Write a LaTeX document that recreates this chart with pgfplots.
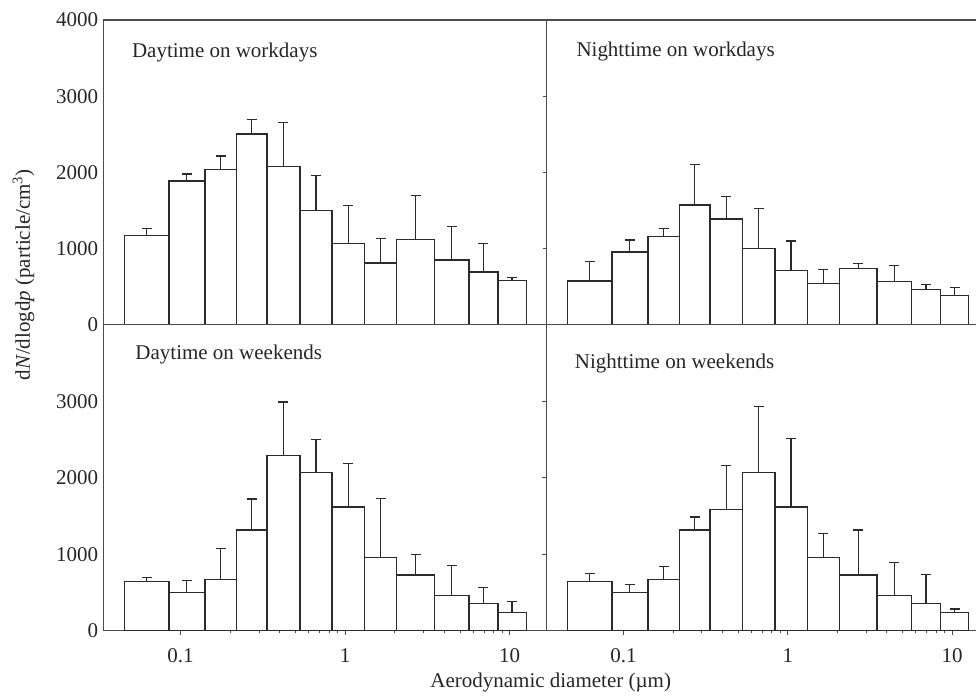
\documentclass[border=0pt]{standalone}
\usepackage{fontspec}
\setmainfont{Liberation Serif}
\usepackage{pgfplots}
\pgfplotsset{compat=1.18}
\definecolor{axc}{gray}{0.3}
\definecolor{barc}{gray}{0.17}
\begin{document}
\begin{tikzpicture}
\path (0,0) (977pt,695pt);
% upper left: daytime on workdays
\begin{axis}[xmode=log, scale only axis, width=443.4pt, height=305pt,
    xmin=0.0339, xmax=16.7, ymin=0, ymax=4000,
    axis line style={axc, line width=1.1pt}, tick style={axc, line width=1pt},
    tick pos=left, tick align=outside, minor tick num=0, major tick length=0pt,
    xtick=\empty, ytick={0,1000,2000,3000,4000}, yticklabels={0,1000,2000,3000,4000},
    tick label style={font=\fontsize{21}{25}\selectfont, text=black!85},
    yticklabel style={anchor=east, inner sep=0pt, xshift=-5pt},
    anchor=south west, at={(103.3pt,370pt)}]
\addplot[ybar interval, fill=white, draw=barc, line width=1.3pt] coordinates {(0.0456,1172) (0.0849,1889) (0.1405,2042) (0.218,2505) (0.335,2081) (0.531,1499) (0.833,1071) (1.31,813) (2.06,1115) (3.48,852) (5.66,691) (8.47,586) (12.6,586)};
\addplot[draw=none, mark=none, error bars/.cd, y dir=plus, y explicit,
    error bar style={draw=barc, line width=1.2pt},
    error mark options={rotate=90, draw=barc, mark size=5pt, line width=1.2pt}]
  table[x=x, y=y, y error=e] {
x y e
0.0622 1172 91
0.1092 1889 91
0.175 2042 174
0.2702 2505 184
0.4218 2081 573
0.665 1499 464
1.0446 1071 490
1.6427 813 315
2.677 1115 585
4.438 852 438
6.924 691 380
10.33 586 35
};
\end{axis}
% upper right: nighttime on workdays
\begin{axis}[xmode=log, scale only axis, width=430.3pt, height=305pt,
    xmin=0.0339, xmax=14.05, ymin=0, ymax=4000,
    axis x line*=box, axis y line*=left,
    axis line style={axc, line width=1.1pt, -}, tick style={axc, line width=1pt},
    tick pos=left, tick align=outside, minor tick num=0, major tick length=3pt,
    xtick=\empty, ytick={0,1000,2000,3000,4000}, yticklabels={},
    anchor=south west, at={(546.7pt,370pt)}]
\addplot[ybar interval, fill=white, draw=barc, line width=1.3pt] coordinates {(0.0456,576) (0.0849,956) (0.1405,1162) (0.218,1572) (0.335,1389) (0.531,1000) (0.833,716) (1.31,541) (2.06,738) (3.48,568) (5.66,459) (8.47,389) (12.6,389)};
\addplot[draw=none, mark=none, error bars/.cd, y dir=plus, y explicit,
    error bar style={draw=barc, line width=1.2pt},
    error mark options={rotate=90, draw=barc, mark size=5pt, line width=1.2pt}]
  table[x=x, y=y, y error=e] {
x y e
0.0622 576 258
0.1092 956 158
0.175 1162 104
0.2702 1572 528
0.4218 1389 292
0.665 1000 524
1.0446 716 384
1.6427 541 184
2.677 738 70
4.438 568 209
6.924 459 74
10.33 389 104
};
\end{axis}
% lower left: daytime on weekends
\begin{axis}[xmode=log, scale only axis, width=443.4pt, height=306pt,
    xmin=0.0339, xmax=16.7, ymin=0, ymax=4000,
    axis line style={axc, line width=1.1pt}, tick style={axc, line width=1pt},
    tick pos=left, tick align=outside, minor tick num=0, major tick length=4pt,
    ytick style={draw=none},
    xtick={0.1,1,10}, xticklabels={0.1,1,10},
    ytick={0,1000,2000,3000}, yticklabels={0,1000,2000,3000},
    tick label style={font=\fontsize{21}{25}\selectfont, text=black!85},
    xticklabel style={anchor=north, inner sep=0pt, yshift=-14pt},
    yticklabel style={anchor=east, inner sep=0pt, xshift=-1pt},
    anchor=south west, at={(103.3pt,64pt)}]
\addplot[ybar interval, fill=white, draw=barc, line width=1.3pt] coordinates {(0.0456,647) (0.0849,503) (0.1405,669) (0.218,1316) (0.335,2291) (0.531,2064) (0.833,1618) (1.31,953) (2.06,726) (3.48,463) (5.66,358) (8.47,240) (12.6,240)};
\addplot[draw=none, mark=none, error bars/.cd, y dir=plus, y explicit,
    error bar style={draw=barc, line width=1.2pt},
    error mark options={rotate=90, draw=barc, mark size=5pt, line width=1.2pt}]
  table[x=x, y=y, y error=e] {
x y e
0.0622 647 44
0.1092 503 157
0.175 669 402
0.2702 1316 407
0.4218 2291 700
0.665 2064 441
1.0446 1618 573
1.6427 953 774
2.677 726 275
4.438 463 394
6.924 358 206
10.33 240 145
};
\end{axis}
% lower right: nighttime on weekends
\begin{axis}[xmode=log, scale only axis, width=430.3pt, height=306pt,
    xmin=0.0339, xmax=14.05, ymin=0, ymax=4000,
    axis x line*=box, axis y line*=left,
    axis line style={axc, line width=1.1pt, -}, tick style={axc, line width=1pt},
    tick pos=left, tick align=outside, minor tick num=0, major tick length=4pt,
    xtick={0.1,1,10}, xticklabels={0.1,1,10},
    ytick={0,1000,2000,3000}, yticklabels={},
    tick label style={font=\fontsize{21}{25}\selectfont, text=black!85},
    xticklabel style={anchor=north, inner sep=0pt, yshift=-14pt},
    anchor=south west, at={(546.7pt,64pt)}]
\addplot[ybar interval, fill=white, draw=barc, line width=1.3pt] coordinates {(0.0456,643) (0.0849,503) (0.1405,669) (0.218,1316) (0.335,1587) (0.531,2064) (0.833,1618) (1.31,953) (2.06,726) (3.48,463) (5.66,358) (8.47,240) (12.6,240)};
\addplot[draw=none, mark=none, error bars/.cd, y dir=plus, y explicit,
    error bar style={draw=barc, line width=1.2pt},
    error mark options={rotate=90, draw=barc, mark size=5pt, line width=1.2pt}]
  table[x=x, y=y, y error=e] {
x y e
0.0622 643 105
0.1092 503 96
0.175 669 170
0.2702 1316 171
0.4218 1587 569
0.665 2064 866
1.0446 1618 896
1.6427 953 315
2.677 726 590
4.438 463 433
6.924 358 381
10.33 240 44
};
\end{axis}
\begin{scope}[font=\fontsize{21}{25}\selectfont]
\node[anchor=base west, text=black!85] at (128.6pt,637pt) {Daytime on workdays};
\node[anchor=base west, text=black!85] at (573.3pt,638.3pt) {Nighttime on workdays};
\node[anchor=base west, text=black!85] at (132pt,335pt) {Daytime on weekends};
\node[anchor=base west, text=black!85] at (571.7pt,326.7pt) {Nighttime on weekends};
\node[rotate=90, text=black!85] at (23.5pt,420pt) {d\textit{N}/dlogd\textit{p} (particle/cm\textsuperscript{3})};
\node[text=black!85] at (551pt,12pt) {Aerodynamic diameter (µm)};
\end{scope}
\end{tikzpicture}
\end{document}
